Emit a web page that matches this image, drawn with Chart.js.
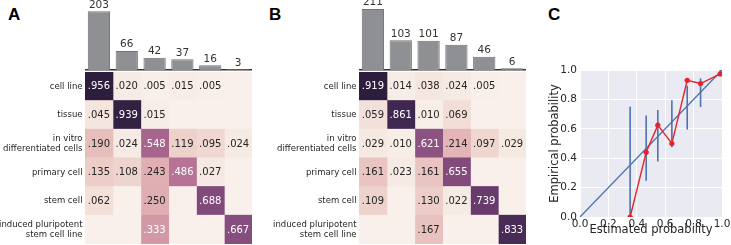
<!DOCTYPE html>
<html><head><meta charset="utf-8">
<script src="https://cdn.jsdelivr.net/npm/chart.js@4"></script>
<style>
html,body{margin:0;padding:0;background:#fff;width:731px;height:245px;overflow:hidden;position:relative;font-family:"DejaVu Sans",sans-serif}
canvas{position:absolute}
.lbl{position:absolute;font:bold 17px/17px "Liberation Sans",Arial,sans-serif;color:#000}
</style></head><body>
<div class="lbl" style="left:8px;top:6px">A</div>
<div class="lbl" style="left:269px;top:6px">B</div>
<div class="lbl" style="left:548px;top:6px">C</div>
<canvas id="barsA" width="167" height="71" style="left:85px;top:0px"></canvas>
<canvas id="heatA" width="252" height="172" style="left:0px;top:72px"></canvas>
<canvas id="barsB" width="167" height="71" style="left:359px;top:0px"></canvas>
<canvas id="heatB" width="260" height="172" style="left:266px;top:72px"></canvas>
<canvas id="calib" width="201" height="185" style="left:530px;top:60px"></canvas>
<script>
// ---------- data ----------
const categories = ["cell line", "tissue", ["in vitro", "differentiated cells"], "primary cell", "stem cell", ["induced pluripotent", "stem cell line"]];
const countsA = [203, 66, 42, 37, 16, 3];
const countsB = [211, 103, 101, 87, 46, 6];
// rows = true class, columns = predicted class (null = empty cell)
const heatA = [
  [0.956, 0.020, 0.005, 0.015, 0.005, null],
  [0.045, 0.939, 0.015, null, null, null],
  [0.190, 0.024, 0.548, 0.119, 0.095, 0.024],
  [0.135, 0.108, 0.243, 0.486, 0.027, null],
  [0.062, null, 0.250, null, 0.688, null],
  [null, null, 0.333, null, null, 0.667]
];
const heatB = [
  [0.919, 0.014, 0.038, 0.024, 0.005, null],
  [0.059, 0.861, 0.010, 0.069, null, null],
  [0.029, 0.010, 0.621, 0.214, 0.097, 0.029],
  [0.161, 0.023, 0.161, 0.655, null, null],
  [0.109, null, 0.130, 0.022, 0.739, null],
  [null, null, 0.167, null, null, 0.833]
];
const estProb = [0.353, 0.466, 0.548, 0.647, 0.755, 0.849, 0.988];
const empProb = [0.0, 0.44, 0.625, 0.50, 0.93, 0.908, 0.973];
const errLow  = [0.0, 0.247, 0.377, 0.474, 0.595, 0.748, 0.965];
const errHigh = [0.75, 0.69, 0.728, 0.794, 0.892, 0.943, 1.0];
const axisTicks = [0, 0.2, 0.4, 0.6, 0.8, 1.0];

// ---------- colour map (seaborn cubehelix, light .95 -> dark .15) ----------
function cubehelix(x) {
  const gamma = 1, hue = 0.8, start = 0, rot = 0.4;
  const xg = Math.pow(x, gamma);
  const a = hue * xg * (1 - xg) / 2;
  const phi = 2 * Math.PI * (start / 3 + rot * x);
  const c = Math.cos(phi), s = Math.sin(phi);
  const r = xg + a * (-0.14861 * c + 1.78277 * s);
  const g = xg + a * (-0.29227 * c - 0.90649 * s);
  const b = xg + a * (1.97294 * c);
  return [r, g, b].map(v => Math.max(0, Math.min(1, v)));
}
function cellRGB(v, vmax) { return cubehelix(0.95 - 0.8 * ((v || 0) / vmax)); }
function toCss(rgb) { return 'rgb(' + rgb.map(v => Math.round(v * 255)).join(',') + ')'; }
function lum(rgb) {
  const lin = rgb.map(c => c <= 0.03928 ? c / 12.92 : Math.pow((c + 0.055) / 1.055, 2.4));
  return 0.2126 * lin[0] + 0.7152 * lin[1] + 0.0722 * lin[2];
}
const TXT = '#262626';
const FONT = 'DejaVu Sans';

const cellText = {
  id: 'cellText',
  afterDatasetsDraw(chart) {
    const ctx = chart.ctx;
    ctx.save();
    ctx.font = '10px "' + FONT + '"';
    ctx.textAlign = 'center';
    ctx.textBaseline = 'middle';
    chart.data.datasets.forEach((ds, di) => {
      chart.getDatasetMeta(di).data.forEach((el, i) => {
        const v = ds.vals[i];
        if (v === null || v === undefined) return;
        ctx.fillStyle = lum(cellRGB(v, ds.vmax)) < 0.408 ? '#ffffff' : TXT;
        ctx.fillText(v.toFixed(3).replace(/^0/, ''), (el.x + el.base) / 2, el.y + 0.5);
      });
    });
    ctx.restore();
  }
};

const barText = {
  id: 'barText',
  afterDatasetsDraw(chart) {
    const ctx = chart.ctx;
    ctx.save();
    ctx.font = '10.5px "' + FONT + '"';
    ctx.textAlign = 'center';
    ctx.textBaseline = 'bottom';
    ctx.fillStyle = '#333';
    const ds = chart.data.datasets[0];
    chart.getDatasetMeta(0).data.forEach((el, i) => {
      ctx.fillText(String(ds.data[i]), el.x, el.y - 1);
    });
    ctx.restore();
  }
};

function makeHeat(id, matrix, axisWidth) {
  const vmax = Math.max(...matrix.flat().filter(v => v !== null));
  const datasets = categories.map((c, ci) => ({
    data: categories.map((r, ri) => [ci, ci + 1]),
    vals: matrix.map(row => row[ci]),
    vmax: vmax,
    backgroundColor: matrix.map(row => toCss(cellRGB(row[ci], vmax))),
    borderWidth: 0,
    inflateAmount: 0.5,
    barPercentage: 1,
    categoryPercentage: 1,
    grouped: false
  }));
  new Chart(document.getElementById(id), {
    type: 'bar',
    data: { labels: categories, datasets },
    options: {
      indexAxis: 'y', responsive: false, animation: false,
      layout: { padding: 0 },
      plugins: { legend: { display: false }, tooltip: { enabled: false } },
      scales: {
        x: { type: 'linear', min: 0, max: 6, display: false },
        y: {
          grid: { display: false, drawTicks: false }, border: { display: false },
          ticks: { color: TXT, padding: 2.5, font: { family: FONT, size: 8.5, lineHeight: 1.18 } },
          afterFit(s) { s.width = axisWidth; s.paddingTop = 0; s.paddingBottom = 0; }
        }
      }
    },
    plugins: [cellText]
  });
}

function makeBars(id, counts) {
  new Chart(document.getElementById(id), {
    type: 'bar',
    data: { labels: categories.map(c => Array.isArray(c) ? c.join(' ') : c),
      datasets: [{ data: counts, backgroundColor: '#8f9093', borderColor: '#707073', borderWidth: 1,
        barPercentage: 0.8, categoryPercentage: 1 }] },
    options: {
      responsive: false, animation: false,
      layout: { padding: { top: 0, bottom: 1, left: 0, right: 0 } },
      plugins: { legend: { display: false }, tooltip: { enabled: false } },
      scales: {
        y: { min: 0, max: 242, display: false },
        x: { grid: { display: false, drawTicks: false }, ticks: { display: false },
             border: { display: true, color: '#333', width: 1.5 },
             afterFit(s) { s.height = 0; s.paddingLeft = 0; s.paddingRight = 0; } }
      }
    },
    plugins: [barText]
  });
}

makeBars('barsA', countsA);
makeHeat('heatA', heatA, 85);
makeBars('barsB', countsB);
makeHeat('heatB', heatB, 93);

// ---------- calibration ----------
const BLUE = '#4c72b0', RED = '#e8232b';
const bgPlugin = {
  id: 'bg',
  beforeDraw(chart) {
    const a = chart.chartArea, ctx = chart.ctx;
    ctx.save(); ctx.fillStyle = '#eaeaf2';
    ctx.fillRect(a.left, a.top, a.right - a.left, a.bottom - a.top);
    ctx.restore();
  }
};
const calDatasets = [
  { data: estProb.map((x, i) => ({ x, y: empProb[i] })), borderColor: RED, backgroundColor: RED,
    borderWidth: 1.4, pointRadius: 2.6, pointBorderWidth: 0, showLine: true, order: 0 },
  { data: [{ x: 0, y: 0 }, { x: 1, y: 1 }], borderColor: BLUE, borderWidth: 1.3, pointRadius: 0,
    showLine: true, order: 1 }
].concat(estProb.map((x, i) => ({
  data: [{ x, y: errLow[i] }, { x, y: errHigh[i] }], borderColor: BLUE, borderWidth: 1.6,
  pointRadius: 0, showLine: true, order: 2
})));
const fmt = v => Number(v).toFixed(1);
new Chart(document.getElementById('calib'), {
  type: 'scatter',
  data: { datasets: calDatasets },
  options: {
    responsive: false, animation: false,
    layout: { padding: { top: 10, right: 9, left: 0, bottom: 0 } },
    plugins: { legend: { display: false }, tooltip: { enabled: false } },
    scales: {
      x: { type: 'linear', min: 0, max: 1,
        afterBuildTicks(s) { s.ticks = axisTicks.map(v => ({ value: v })); },
        grid: { color: '#ffffff', lineWidth: 1, drawTicks: false }, border: { display: false },
        ticks: { color: TXT, padding: 1, font: { family: FONT, size: 10.5 }, callback: fmt, maxRotation: 0 },
        title: { display: true, text: 'Estimated probability', color: TXT, font: { family: FONT, size: 11.5 }, padding: { top: 0, bottom: 8 } },
        afterFit(s) { s.height = 28; s.paddingLeft = 0; s.paddingRight = 0; } },
      y: { type: 'linear', min: 0, max: 1,
        afterBuildTicks(s) { s.ticks = axisTicks.map(v => ({ value: v })); },
        grid: { color: '#ffffff', lineWidth: 1, drawTicks: false }, border: { display: false },
        ticks: { color: TXT, padding: 3, font: { family: FONT, size: 10.5 }, callback: fmt },
        title: { display: true, text: 'Empirical probability', color: TXT, font: { family: FONT, size: 11.5 }, padding: { top: 18, bottom: 0 } },
        afterFit(s) { s.width = 50; s.paddingTop = 0; s.paddingBottom = 0; } }
    }
  },
  plugins: [bgPlugin]
});
</script>
</body></html>
